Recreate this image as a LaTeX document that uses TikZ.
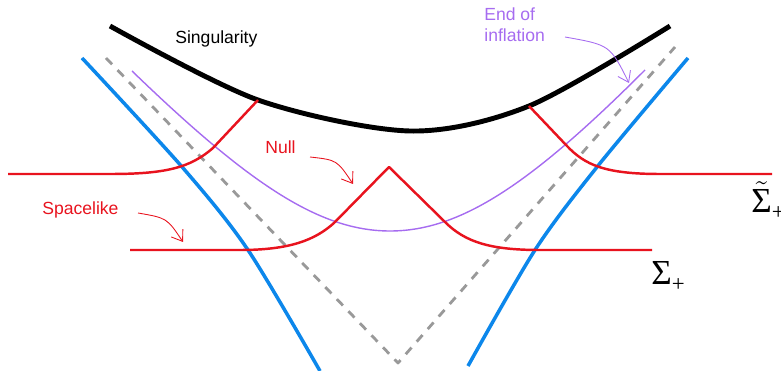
\documentclass[tikz,border=0pt]{standalone}
\usepackage{fontspec}
\setmainfont{Liberation Sans}
\newfontfamily\sigfont{Liberation Serif}
\usetikzlibrary{arrows.meta}
\definecolor{cred}{HTML}{E8131E}
\definecolor{cblue}{HTML}{0C87EB}
\definecolor{cpurple}{HTML}{A66CF0}
\definecolor{cgrey}{HTML}{999999}
\tikzset{
  every picture/.style={x=0.02cm, y=-0.02cm, line join=round},
  singular/.style={draw=black, line width=2.8pt},
  horizon/.style={draw=cblue, line width=2pt},
  cone/.style={draw=cgrey, line width=1.6pt, dash pattern=on 5pt off 4.5pt},
  endinf/.style={draw=cpurple, line width=0.8pt},
  slice/.style={draw=cred, line width=1.4pt},
  lab/.style={font=\fontsize{10}{12.5}\selectfont, inner sep=0pt, anchor=base west, align=left},
  sig/.style={font=\fontsize{20}{22}\sigfont, inner sep=0pt, anchor=base west},
  pointer/.style={-{Straight Barb[length=2mm, width=2.8mm]}, line width=0.5pt},
}

\begin{document}
\begin{tikzpicture}
  \useasboundingbox (0,0) rectangle (781,371);

  % ---- singularity, horizons, light cone
  \draw[singular] plot[smooth] coordinates {(110,26) (258,100) (410,131) (529,106) (670,26)};
  \draw[horizon] plot[smooth] coordinates {(82,58) (183,168) (248,250) (320,371)};
  \draw[horizon] plot[smooth] coordinates {(688,58) (597,167) (535,250) (468,366)};
  \draw[cone] (106,58) -- (398,363) -- (675,47);
  \draw[endinf] (132,71) .. controls (250,185) and (320,231) .. (390,231)
    .. controls (460,231) and (530,185) .. (645,70);

  % ---- slices
  \draw[slice] (8,174) -- (110,174) .. controls (165,174) and (190,168) .. (213,148) -- (258,100);
  \draw[slice] (529,106) -- (567,146) .. controls (585,165) and (605,174) .. (660,174) -- (772,174);
  \draw[slice] (130,250) -- (240,250) .. controls (290,250) and (315,240) .. (334,223)
    -- (389,167) -- (445,222) .. controls (465,242) and (490,250) .. (540,250) -- (652,250);

  % ---- labels
  \node[lab] (sing) at (175,44) {Singularity};
  \node[lab, text=cpurple] (endinfl) at (484,42) {End of\\inflation};
  \node[lab, text=cred] (null) at (265,154) {Null};
  \node[lab, text=cred] (space) at (42,215) {Spacelike};
  \node[sig] (sigma) at (651,285) {Σ\raisebox{-0.4ex}{\fontsize{13}{14}\selectfont +}};
  \node[sig] (sigmat) at (751,213) {$\tilde{\hbox{\sigfont Σ}}$\raisebox{-0.4ex}{\fontsize{13}{14}\selectfont +}};

  \coordinate (endinfA) at (565,37);
  \coordinate (endinfB) at (629,83);
  \coordinate (nullA) at (310,157);
  \coordinate (nullB) at (353,184);
  \coordinate (spaceA) at (138,213);
  \coordinate (spaceB) at (183,242);
  \draw[pointer, cpurple] (endinfA) .. controls (610,45) .. (endinfB);
  \draw[pointer, cred] (nullA) .. controls (337,160) .. (nullB);
  \draw[pointer, cred] (spaceA) .. controls (167,218) .. (spaceB);
\end{tikzpicture}
\end{document}
